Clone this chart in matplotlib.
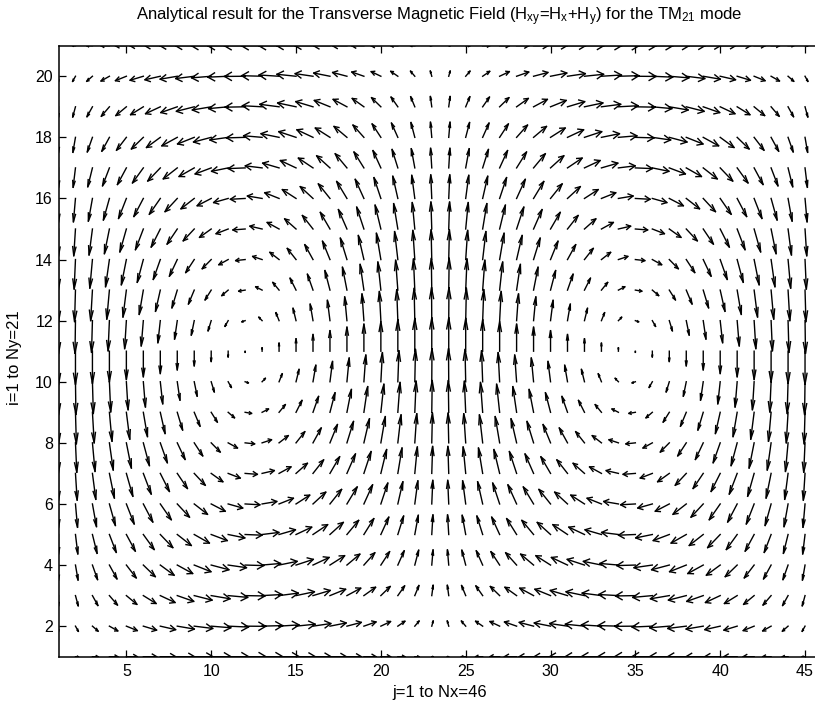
import matplotlib.pyplot as plt
import numpy as np

plt.rcParams["font.family"] = ["Liberation Sans", "DejaVu Sans"]
plt.rcParams["mathtext.fontset"] = "custom"
plt.rcParams["mathtext.rm"] = "Liberation Sans"
plt.rcParams["mathtext.it"] = "Liberation Sans"

# sample grid (j along x, i along y) and mode numbers of the TM_mn field
j_values = np.arange(1, 47)
i_values = np.arange(1, 22)
mode_m = 2
mode_n = 1

x_ticks = [5, 10, 15, 20, 25, 30, 35, 40, 45]
y_ticks = [2, 4, 6, 8, 10, 12, 14, 16, 18, 20]

title_text = (
    "Analytical result for the Transverse Magnetic Field "
    "(H$_{\\mathrm{xy}}$=H$_{\\mathrm{x}}$+H$_{\\mathrm{y}}$) "
    "for the TM$_{\\mathrm{21}}$ mode"
)
x_label = "j=1 to Nx=46"
y_label = "i=1 to Ny=21"

# transverse H of the TM mode: H ~ z x grad(Ez), Ez = sin(kx x) sin(ky y)
X, Y = np.meshgrid(j_values, i_values)
kx = mode_m * np.pi / (j_values[-1] - j_values[0])
ky = mode_n * np.pi / (i_values[-1] - i_values[0])
hx = ky * np.sin(kx * (X - 1)) * np.cos(ky * (Y - 1))
hy = -kx * np.cos(kx * (X - 1)) * np.sin(ky * (Y - 1))

# autoscale like matlab's quiver
rows, cols = X.shape
delx = (X.max() - X.min()) / cols
dely = (Y.max() - Y.min()) / rows
length = np.sqrt((hx**2 + hy**2) / (delx**2 + dely**2))
scale = 0.9 / length.max()
u = (hx * scale).ravel()
v = (hy * scale).ravel()
x = X.ravel().astype(float)
y = Y.ravel().astype(float)

alpha = 0.33
beta = 0.33
eps = 1e-16
nan = np.full_like(x, np.nan)
shaft_x = np.column_stack([x, x + u, nan]).ravel()
shaft_y = np.column_stack([y, y + v, nan]).ravel()
head_x = np.column_stack([
    x + u - alpha * (u + beta * (v + eps)),
    x + u,
    x + u - alpha * (u - beta * (v + eps)),
    nan,
]).ravel()
head_y = np.column_stack([
    y + v - alpha * (v - beta * (u + eps)),
    y + v,
    y + v - alpha * (v + beta * (u + eps)),
    nan,
]).ravel()

fig = plt.figure(figsize=(8.15, 7.04), dpi=100)
ax = fig.add_axes([58.5 / 815, 47.3 / 704, 763.5 / 815, 611 / 704])

ax.plot(shaft_x, shaft_y, color="black", linewidth=1.0)
ax.plot(head_x, head_y, color="black", linewidth=1.0)

ax.set_xlim(1, 46)
ax.set_ylim(1, 21)
ax.set_xticks(x_ticks)
ax.set_yticks(y_ticks)
ax.tick_params(direction="in", length=5, width=0.9, top=True, right=True,
               labelsize=11.5)
ax.tick_params(axis="x", pad=5)
ax.tick_params(axis="y", pad=4)
for spine in ax.spines.values():
    spine.set_linewidth(1.1)

fig.text(439 / 815, 1 - 20 / 704, title_text, ha="center", va="baseline",
         fontsize=12)
fig.text(440 / 815, 1 - 692 / 704, x_label, ha="center", va="center",
         fontsize=12)
fig.text(15 / 815, 1 - 358 / 704, y_label, ha="center", va="center",
         rotation=90, fontsize=12)

fig.savefig("out.png", dpi=100)
